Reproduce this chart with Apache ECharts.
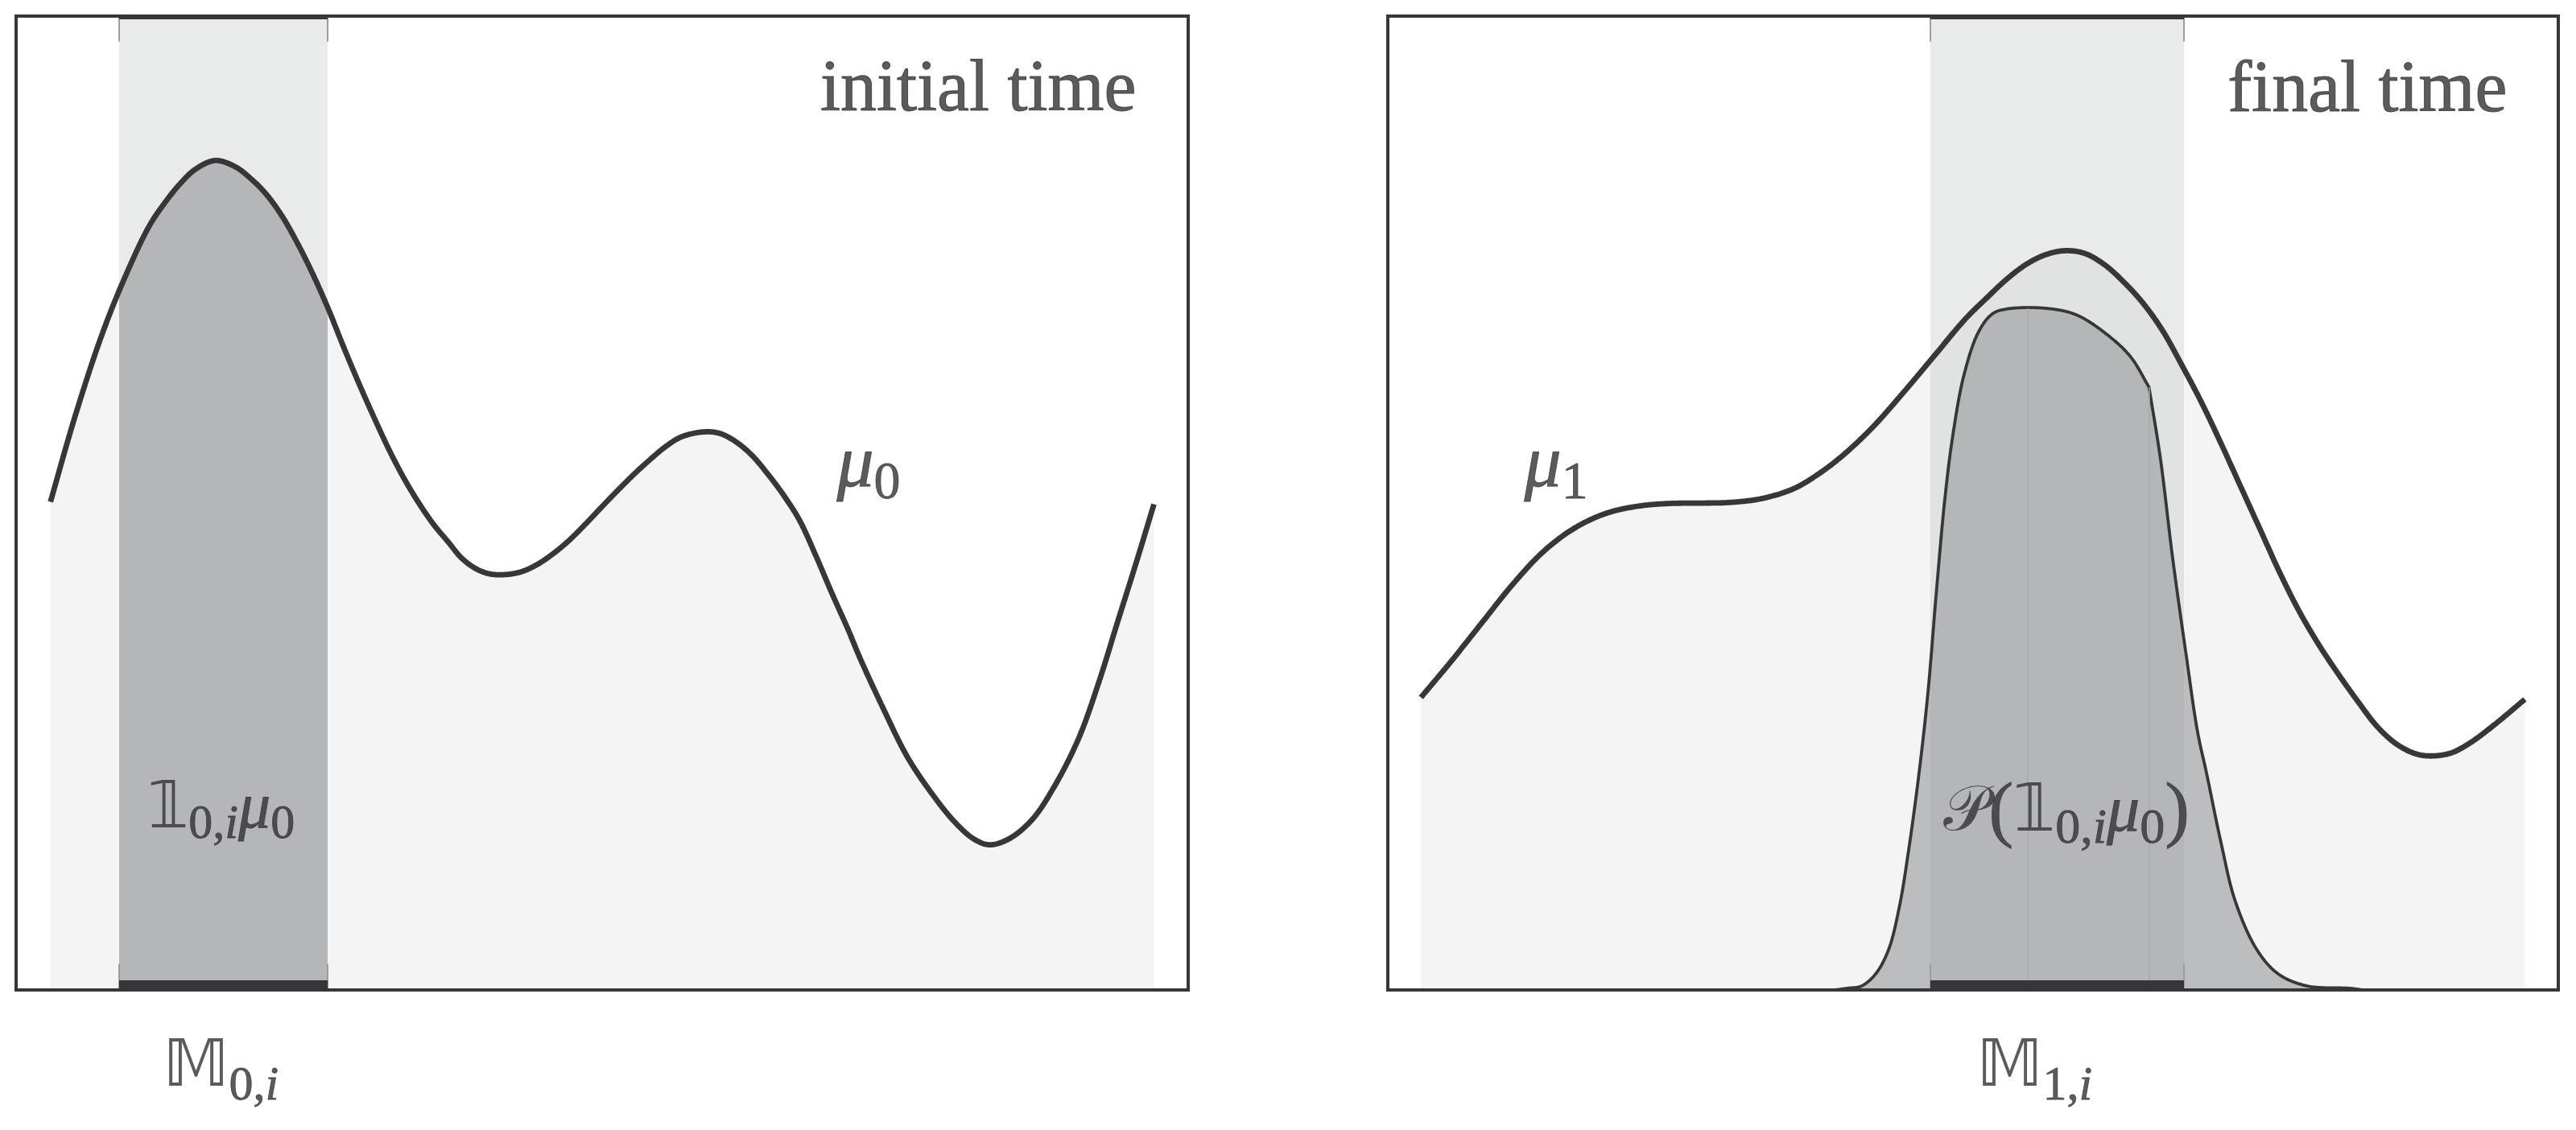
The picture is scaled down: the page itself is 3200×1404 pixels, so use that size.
<!DOCTYPE html>
<html><head><meta charset="utf-8">
<script src="https://cdn.jsdelivr.net/npm/echarts@6/dist/echarts.min.js"></script>
<style>html,body{margin:0;padding:0;background:#fff}#c{width:3200px;height:1404px}</style>
</head><body><div id="c"></div>
<script>
// ---- data (normalised panel units 0..100) ----
const mu0X = [2.93, 4.99, 7.16, 8.99, 11.32, 12.65, 13.98, 15.32, 16.98, 18.64, 19.97, 21.30, 22.64, 23.97, 25.30, 26.63, 27.97, 29.30, 30.63, 31.96, 33.29, 34.62, 35.71, 36.86, 38.00, 39.15, 40.30, 41.55, 43.04, 44.42, 45.79, 47.16, 48.54, 49.91, 51.28, 52.66, 54.03, 55.41, 56.78, 58.61, 59.98, 61.35, 62.73, 64.10, 65.47, 66.85, 68.22, 69.59, 70.97, 72.05, 74.05, 76.04, 78.04, 80.03, 81.70, 83.04, 84.70, 86.70, 88.69, 90.69, 92.36, 94.02, 95.69, 97.08];
const mu0Y = [50.12, 58.74, 66.74, 72.36, 78.36, 80.77, 82.77, 84.29, 85.17, 84.57, 83.37, 81.77, 79.56, 76.76, 73.55, 69.95, 65.94, 62.14, 58.54, 55.13, 52.12, 49.52, 47.66, 46.01, 44.36, 43.31, 42.75, 42.64, 42.92, 43.66, 44.77, 46.14, 47.79, 49.53, 51.24, 52.89, 54.40, 55.79, 56.80, 57.30, 57.17, 56.34, 54.96, 53.03, 50.83, 48.21, 44.63, 40.77, 37.05, 33.94, 28.74, 23.93, 20.32, 17.31, 15.51, 14.91, 15.51, 17.51, 21.12, 25.93, 31.54, 37.95, 44.36, 49.88];
const mu1X = [2.83, 5.34, 8.00, 10.67, 13.34, 16.00, 18.67, 21.33, 24.00, 26.67, 29.33, 32.00, 34.67, 36.67, 38.67, 41.34, 44.01, 46.67, 49.34, 51.20, 52.87, 54.53, 56.20, 57.87, 59.54, 61.20, 62.87, 64.54, 66.20, 67.87, 69.54, 71.20, 72.87, 74.54, 76.20, 77.88, 79.54, 81.20, 82.87, 84.54, 86.20, 87.87, 89.21, 90.87, 92.54, 94.54, 97.14];
const mu1Y = [30.04, 33.64, 37.65, 41.65, 45.07, 47.46, 48.95, 49.67, 49.95, 49.99, 50.07, 50.47, 51.47, 52.88, 54.68, 57.68, 61.29, 65.09, 68.90, 71.10, 72.98, 74.50, 75.50, 75.91, 75.63, 74.50, 72.70, 70.50, 67.69, 64.09, 60.28, 56.08, 51.67, 47.26, 42.86, 38.85, 35.45, 32.45, 29.64, 27.03, 25.23, 24.23, 24.03, 24.35, 25.43, 27.23, 29.84];
const pX = [38.24, 39.24, 40.47, 41.68, 42.78, 43.70, 44.46, 45.39, 46.15, 46.84, 47.59, 48.28, 49.24, 50.48, 51.65, 52.87, 56.19, 58.87, 61.87, 63.54, 65.03, 66.02, 67.04, 68.20, 69.19, 69.94, 71.18, 72.41, 74.25, 76.07, 78.54, 82.23, 83.29];
const pY = [0, 0.17, 0.41, 1.65, 4.13, 8.51, 14.05, 22.31, 30.58, 40.50, 50.41, 57.02, 63.22, 67.60, 69.42, 69.92, 70.00, 69.30, 66.89, 64.89, 61.90, 54.46, 44.46, 34.46, 26.45, 22.31, 15.15, 9.09, 4.13, 1.65, 0.41, 0.17, 0];
const pKinkIndex = [20];
const leftBand = [8.79, 26.58];
const rightBand = [46.35, 68.02];
const pGuideX = [54.68, 65.03];
const pGuideTop = [70.0, 61.9];
const titles = ['initial time', 'final time'];

// ---- styles ----
const DARK = '#383638';
const TEXT = '#333133';
const zip = (xs, ys) => xs.map((x, i) => [x, ys[i]]);
const serif = "'Liberation Serif', 'DejaVu Serif', serif";
const bbFont = "'DejaVu Sans', 'DejaVu Serif', sans-serif";

// centripetal Catmull-Rom drawing of a curve through pixel points
function crPoint(p0, p1, p2, p3, u) {
  const d = (a, b) => Math.max(Math.pow(Math.hypot(b[0] - a[0], b[1] - a[1]), 0.5), 1e-4);
  const t0 = 0, t1 = t0 + d(p0, p1), t2 = t1 + d(p1, p2), t3 = t2 + d(p2, p3);
  const t = t1 + (t2 - t1) * u;
  const lerp = (a, b, ta, tb) => [((tb - t) * a[0] + (t - ta) * b[0]) / (tb - ta), ((tb - t) * a[1] + (t - ta) * b[1]) / (tb - ta)];
  const A1 = lerp(p0, p1, t0, t1), A2 = lerp(p1, p2, t1, t2), A3 = lerp(p2, p3, t2, t3);
  const B1 = lerp(A1, A2, t0, t2), B2 = lerp(A2, A3, t1, t3);
  return lerp(B1, B2, t1, t2);
}
function drawCurve(pts, corners) {
  const n = pts.length, out = [pts[0]], SEG = 24;
  const refl = (a, b) => [2 * a[0] - b[0], 2 * a[1] - b[1]];
  for (let i = 0; i < n - 1; i++) {
    const p1 = pts[i], p2 = pts[i + 1];
    const p0 = (i > 0 && corners.indexOf(i) < 0) ? pts[i - 1] : refl(p1, p2);
    const p3 = (i + 2 < n && corners.indexOf(i + 1) < 0) ? pts[i + 2] : refl(p2, p1);
    for (let s = 1; s <= SEG; s++) out.push(crPoint(p0, p1, p2, p3, s / SEG));
  }
  return out;
}
function yAtX(curve, x) {
  for (let i = 0; i < curve.length - 1; i++) {
    const a = curve[i], b = curve[i + 1];
    if ((a[0] - x) * (b[0] - x) <= 0 && a[0] !== b[0]) return a[1] + (b[1] - a[1]) * (x - a[0]) / (b[0] - a[0]);
  }
  return curve[0][1];
}
function curveSeries(gi, xs, ys, band, outC, inC, lw, z, corners) {
  return {
    type: 'custom', xAxisIndex: gi, yAxisIndex: gi, z: z, silent: true,
    data: zip(xs, ys),
    renderItem: function (params, api) {
      if (params.dataIndex !== 0) return null;
      const y0 = api.coord([0, 0])[1];
      const pts = xs.map((x, i) => api.coord([x, ys[i]]));
      const curve = drawCurve(pts, corners || []).map(p => [p[0], Math.min(p[1], y0)]);
      const poly = curve.concat([[curve[curve.length - 1][0], y0], [curve[0][0], y0]]);
      const bx0 = api.coord([band[0], 0])[0], bx1 = api.coord([band[1], 0])[0];
      const inner = [[bx0, yAtX(curve, bx0)]].concat(curve.filter(p => p[0] > bx0 && p[0] < bx1), [[bx1, yAtX(curve, bx1)], [bx1, y0], [bx0, y0]]);
      return {type: 'group', children: [
        {type: 'polygon', shape: {points: poly}, style: {fill: outC, stroke: null}},
        {type: 'polygon', shape: {points: inner}, style: {fill: inC, stroke: null}},
        {type: 'polyline', shape: {points: curve}, style: {fill: 'none', stroke: DARK, lineWidth: lw, lineJoin: 'round', lineCap: 'butt'}}
      ]};
    }
  };
}

function richSet(Sm, Ss, pad, parenSize) {
  const b = {textBorderColor: TEXT, textBorderWidth: 0.8, color: TEXT};
  return {
    m:  Object.assign({fontFamily: serif, fontSize: Sm}, b),
    p:  Object.assign({fontFamily: serif, fontSize: parenSize || Sm}, b),
    mi: Object.assign({fontFamily: serif, fontStyle: 'italic', fontSize: Sm}, b),
    bb: {fontFamily: bbFont, fontSize: Sm, color: TEXT},
    sc: {fontFamily: bbFont, fontSize: Sm * 0.95, color: TEXT},
    s:  Object.assign({fontFamily: serif, fontSize: Ss, padding: [pad, 0, 0, 0]}, b),
    si: Object.assign({fontFamily: serif, fontStyle: 'italic', fontSize: Ss, padding: [pad, 0, 0, 0]}, b)
  };
}
function lbl(x, y, text, rich, align, va) {
  return {value: [x, y], label: {show: true, position: [0, 0], align: align || 'left', verticalAlign: va || 'middle', formatter: text, rich: rich}};
}
const titleRich = {t: {fontFamily: serif, fontSize: 90, lineHeight: 90, verticalAlign: 'top', color: TEXT, textBorderColor: TEXT, textBorderWidth: 1}};

function bandSeries(gi, band) {
  return {type: 'line', xAxisIndex: gi, yAxisIndex: gi, z: 1, data: [[band[0], 0]], showSymbol: false, silent: true,
    lineStyle: {width: 0},
    markArea: {silent: true, itemStyle: {color: '#e9ebea'}, data: [[{xAxis: band[0], yAxis: 0}, {xAxis: band[1], yAxis: 100}]]}};
}
function decoSeries(gi, band, extraLines) {
  const lines = [];
  band.forEach(b => {
    lines.push([{coord: [b, 100]}, {coord: [b, 97.4]}]);
    lines.push([{coord: [b, 0]}, {coord: [b, 2.64]}]);
  });
  lines.push([{coord: [band[0], 0.496], lineStyle: {color: DARK, width: 12, cap: 'butt'}}, {coord: [band[1], 0.496]}]);
  lines.push([{coord: [band[0], 99.83], lineStyle: {color: DARK, width: 4, cap: 'butt'}}, {coord: [band[1], 99.83]}]);
  return {type: 'line', xAxisIndex: gi, yAxisIndex: gi, z: 4, data: [[band[0], 0]], showSymbol: false, silent: true,
    lineStyle: {width: 0},
    markLine: {silent: true, symbol: ['none', 'none'], label: {show: false},
      lineStyle: {color: '#9c9c9c', width: 2, type: 'solid'}, data: (extraLines || []).concat(lines)}};
}

const guideLines = pGuideX.map((x, i) => [{coord: [x, 0], lineStyle: {color: '#a7a8aa', width: 1.5}}, {coord: [x, pGuideTop[i]]}]);

const option = {
  animation: false,
  backgroundColor: '#ffffff',
  grid: [
    {left: 20, top: 20, width: 1456, height: 1210, show: true, borderColor: DARK, borderWidth: 4, backgroundColor: 'transparent', z: 10},
    {left: 1724, top: 20, width: 1454, height: 1210, show: true, borderColor: DARK, borderWidth: 4, backgroundColor: 'transparent', z: 10}
  ],
  xAxis: [0, 1].map(i => ({type: 'value', gridIndex: i, min: 0, max: 100, show: false})),
  yAxis: [0, 1].map(i => ({type: 'value', gridIndex: i, min: 0, max: 100, show: false})),
  series: [
    bandSeries(0, leftBand),
    curveSeries(0, mu0X, mu0Y, leftBand, '#f3f4f3', '#b5b6b8', 6.8, 2),
    decoSeries(0, leftBand),
    {type: 'scatter', xAxisIndex: 0, yAxisIndex: 0, z: 5, clip: false, symbolSize: 1, silent: true, itemStyle: {color: 'transparent'},
      data: [
        lbl(95.60, 95.98, '{t|' + titles[0] + '}', titleRich, 'right', 'top'),
        lbl(70.05, 53.68, '{mi|μ}{s|0}', richSet(92, 66, 44)),
        lbl(11.26, 18.35, '{bb|𝟙}{s|0,}{si|i}{mi|μ}{s|0}', richSet(80, 60, 36)),
        lbl(12.57, -8.18, '{bb|𝕄}{s|0,}{si|i}', richSet(80, 60, 44))
      ]},
    bandSeries(1, rightBand),
    curveSeries(1, mu1X, mu1Y, rightBand, '#f3f4f3', '#e1e2e2', 6.8, 2),
    curveSeries(1, pX, pY, rightBand, '#bcbdbf', '#b5b6b8', 3.8, 3, pKinkIndex),
    decoSeries(1, rightBand, guideLines),
    {type: 'scatter', xAxisIndex: 1, yAxisIndex: 1, z: 5, clip: false, symbolSize: 1, silent: true, itemStyle: {color: 'transparent'},
      data: [
        lbl(95.67, 95.90, '{t|' + titles[1] + '}', titleRich, 'right', 'top'),
        lbl(11.69, 53.68, '{mi|μ}{s|1}', richSet(92, 66, 44)),
        lbl(47.52, 18.10, '{sc|𝒫}{p|(}{bb|𝟙}{s|0,}{si|i}{mi|μ}{s|0}{p|)}', richSet(82, 62, 40, 92)),
        lbl(50.34, -8.18, '{bb|𝕄}{s|1,}{si|i}', richSet(80, 60, 44))
      ]}
  ]
};
const chart = echarts.init(document.getElementById('c'), null, {renderer: 'canvas'});
chart.setOption(option);
</script>
</body></html>
